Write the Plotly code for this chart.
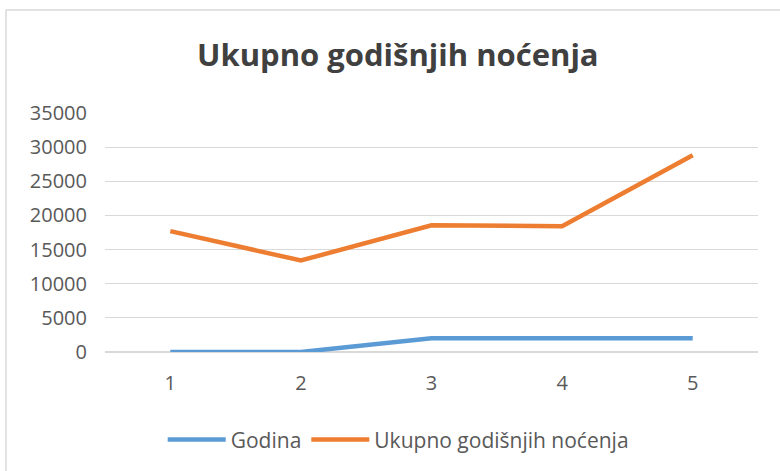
import plotly.graph_objects as go

# Data
categories = [1, 2, 3, 4, 5]
godina = [0, 0, 2018, 2019, 2020]
nocenja = [17700, 13400, 18550, 18420, 28800]
y_ticks = [0, 5000, 10000, 15000, 20000, 25000, 30000, 35000]

title = 'Ukupno godišnjih noćenja'
font = 'Open Sans, Noto Sans, sans-serif'

fig = go.Figure()
fig.add_trace(go.Scatter(x=categories, y=godina, mode='lines', name='Godina',
                         line=dict(color='#5B9BD5', width=4.5)))
fig.add_trace(go.Scatter(x=categories, y=nocenja, mode='lines', name=title,
                         line=dict(color='#ED7D31', width=4.5)))

fig.update_layout(
    width=780, height=471,
    margin=dict(l=105, r=22, t=113, b=119, autoexpand=False),
    paper_bgcolor='white', plot_bgcolor='white',
    font=dict(family=font, color='#595959', size=20),
    title=dict(text='<b>' + title + '</b>', x=0.51, xanchor='center', y=0.883, yanchor='middle',
               font=dict(family=font, size=31, color='#404040')),
    showlegend=True,
    legend=dict(orientation='h', x=0.449, xanchor='center', y=-0.368, yanchor='middle',
                font=dict(size=21, color='#595959'), traceorder='normal', itemwidth=58),
    xaxis=dict(range=[0.5, 5.5], tickvals=categories, showgrid=False, zeroline=False,
               showline=False, ticks='', ticklabelstandoff=17, fixedrange=True),
    yaxis=dict(range=[0, 35000], tickvals=y_ticks, showgrid=True, gridcolor='#D9D9D9',
               gridwidth=1, zeroline=True, zerolinecolor='#D9D9D9', showline=False,
               ticks='', ticklabelstandoff=17, tickformat='d', fixedrange=True),
)

# Outer chart frame: only the left and top edges are inside the picture
frame = dict(color='#D9D9D9', width=1.5)
fig.add_shape(type='line', xref='paper', yref='paper',
              x0=-0.1516, x1=-0.1516, y0=-0.6, y1=1.431, line=frame, layer='below')
fig.add_shape(type='line', xref='paper', yref='paper',
              x0=-0.1516, x1=1.2, y0=1.431, y1=1.431, line=frame, layer='below')

fig.write_html("out.html", config={'displayModeBar': False},
               post_script="document.body.style.margin='0';"
                           "document.body.style.overflow='hidden';"
                           "document.documentElement.style.overflow='hidden';")
